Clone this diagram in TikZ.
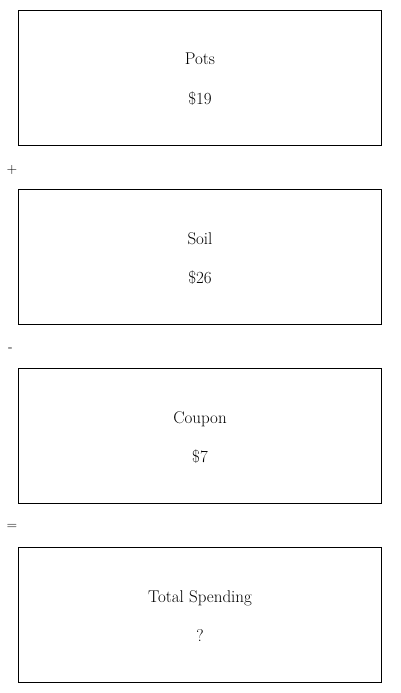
\documentclass[tikz,border=0pt]{standalone}
\begin{document}
\begin{tikzpicture}[x=1pt,y=-1pt,
  itembox/.style={draw=black,line width=1pt,minimum width=363pt,minimum height=135pt,inner sep=0pt,anchor=north west},
  lbl/.style={font=\fontsize{17}{20}\selectfont,anchor=base,inner sep=0pt},
  opsign/.style={font=\fontsize{14}{16}\selectfont,inner sep=0pt}]
\useasboundingbox (0,0) rectangle (400,693);
\node[itembox] (b1) at (18,10) {};
\node[itembox] (b2) at (18,189) {};
\node[itembox] (b3) at (18,368) {};
\node[itembox] (b4) at (18,547) {};
\foreach \b/\t/\v in {b1/Pots/\$19, b2/Soil/\$26, b3/Coupon/\$7, b4/Total Spending/?}{
  \node[lbl] (\b t) at ([yshift=-55pt]\b.north) {\t};
  \node[lbl] (\b v) at ([yshift=-94pt]\b.north) {\v};
}
\node[opsign] (op1) at (12,170) {+};
\node[opsign] (op2) at (10.5,350) {-};
\node[opsign] (op3) at (12,527) {=};
\end{tikzpicture}
\end{document}
